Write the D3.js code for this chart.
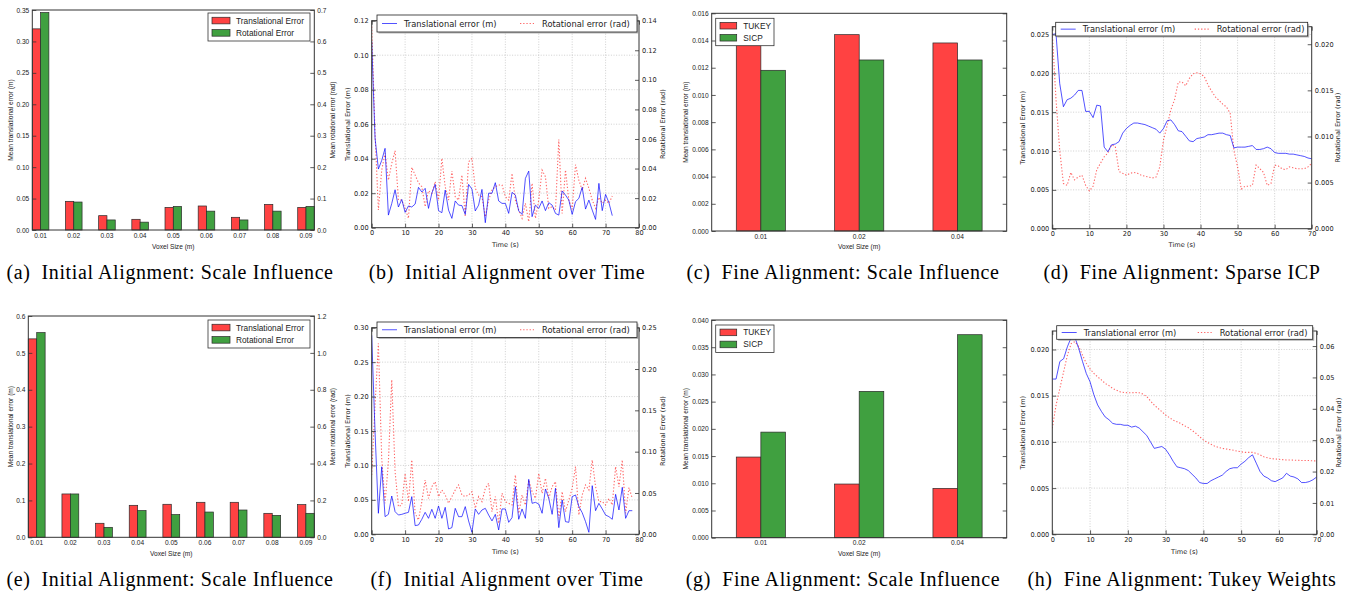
<!DOCTYPE html>
<html>
<head>
<meta charset="utf-8">
<script src="https://cdn.jsdelivr.net/npm/d3@7"></script>
<style>
  body { margin: 0; background: #fff; }
  svg { display: block; }
  .cap { font-family: "Liberation Serif", "Times New Roman", serif; font-size: 20px; letter-spacing: 0.6px; fill: #000; white-space: pre; }
</style>
</head>
<body>
<svg width="1354" height="595"></svg>
<script>
// ---- data ----
const voxelCoarse = ['0.01', '0.02', '0.03', '0.04', '0.05', '0.06', '0.07', '0.08', '0.09'];
const voxelFine = ['0.01', '0.02', '0.04'];

// (a) initial alignment, scale influence
const transErrA = [0.320, 0.0456, 0.0228, 0.017, 0.036, 0.0382, 0.0202, 0.0408, 0.036];
const rotErrA = [0.692, 0.089, 0.032, 0.025, 0.075, 0.060, 0.032, 0.060, 0.075];
// (e) initial alignment, scale influence (second sequence)
const transErrE = [0.538, 0.1175, 0.038, 0.0867, 0.0895, 0.0949, 0.0949, 0.065, 0.0886];
const rotErrE = [1.11, 0.235, 0.054, 0.145, 0.123, 0.137, 0.148, 0.119, 0.130];
// (c) / (g) fine alignment, scale influence
const tukeyC = [0.0147, 0.01443, 0.01382];
const sicpC = [0.01181, 0.01257, 0.01257];
const tukeyG = [0.01482, 0.00986, 0.00906];
const sicpG = [0.0194, 0.02689, 0.0373];

// (b) initial alignment over time, one sample per second
const transB = [0.108, 0.052, 0.034, 0.039, 0.046, 0.0073, 0.014, 0.022, 0.012, 0.0164, 0.0089, 0.0126, 0.012, 0.0137, 0.0234, 0.0207, 0.0228, 0.0112, 0.020, 0.0251, 0.0099, 0.0087, 0.0218, 0.0102, 0.0054, 0.0155, 0.0131, 0.0128, 0.0077, 0.0251, 0.0224, 0.0097, 0.0131, 0.0222, 0.0029, 0.020, 0.020, 0.0261, 0.0155, 0.0141, 0.0141, 0.0083, 0.0205, 0.0189, 0.0097, 0.0077, 0.0286, 0.0328, 0.0064, 0.0131, 0.0112, 0.0155, 0.0099, 0.0145, 0.0131, 0.0083, 0.0073, 0.0213, 0.0189, 0.016, 0.0077, 0.0151, 0.017, 0.0234, 0.0108, 0.016, 0.0102, 0.0048, 0.0257, 0.0099, 0.0193, 0.0145, 0.007];
const rotB = [0.136, 0.0638, 0.012, 0.039, 0.0503, 0.0322, 0.0435, 0.052, 0.0187, 0.0187, 0.0131, 0.0063, 0.0408, 0.0356, 0.0304, 0.0277, 0.0142, 0.025, 0.0232, 0.0311, 0.0187, 0.0469, 0.0277, 0.0187, 0.0383, 0.021, 0.0187, 0.0356, 0.0074, 0.0446, 0.0469, 0.0266, 0.0221, 0.021, 0.0074, 0.0187, 0.0255, 0.0277, 0.0289, 0.0289, 0.021, 0.0187, 0.0367, 0.0187, 0.012, 0.0063, 0.0165, 0.0041, 0.03, 0.0063, 0.0187, 0.039, 0.0345, 0.0131, 0.0142, 0.012, 0.0597, 0.0097, 0.039, 0.0187, 0.0124, 0.0426, 0.0322, 0.0255, 0.0334, 0.0266, 0.0187, 0.0131, 0.0205, 0.0165, 0.0187, 0.0165, 0.0214];

// (f) initial alignment over time (second sequence)
const transF = [0.289, 0.149, 0.0305, 0.098, 0.0256, 0.029, 0.0556, 0.0329, 0.028, 0.029, 0.0305, 0.0319, 0.0547, 0.0126, 0.0135, 0.0218, 0.0319, 0.0232, 0.0363, 0.0232, 0.0411, 0.0232, 0.0392, 0.0077, 0.0097, 0.0377, 0.0256, 0.0256, 0.0402, 0.0194, 0.0029, 0.0368, 0.029, 0.0353, 0.0377, 0.028, 0.0194, 0.029, 0.0063, 0.0368, 0.0368, 0.0174, 0.0242, 0.0692, 0.0218, 0.0368, 0.0232, 0.0798, 0.045, 0.0464, 0.044, 0.0305, 0.0658, 0.0522, 0.029, 0.0668, 0.0097, 0.0498, 0.0184, 0.0174, 0.0547, 0.0571, 0.0402, 0.0314, 0.0184, 0.0029, 0.0706, 0.0343, 0.045, 0.0368, 0.028, 0.0256, 0.0218, 0.058, 0.0353, 0.0682, 0.0232, 0.0343, 0.0343];
const rotF = [0.0718, 0.156, 0.231, 0.0919, 0.0375, 0.0879, 0.187, 0.0758, 0.0335, 0.0355, 0.0738, 0.0395, 0.0899, 0.0254, 0.0173, 0.0395, 0.0657, 0.0435, 0.0577, 0.0637, 0.0456, 0.0536, 0.0476, 0.0375, 0.0456, 0.0536, 0.0597, 0.0476, 0.0456, 0.0476, 0.0516, 0.0315, 0.0456, 0.0395, 0.0556, 0.0617, 0.0274, 0.0456, 0.0133, 0.0496, 0.0395, 0.0375, 0.0355, 0.0718, 0.0254, 0.0476, 0.0355, 0.0657, 0.0516, 0.0435, 0.0738, 0.0496, 0.0677, 0.0435, 0.0577, 0.0637, 0.0194, 0.0516, 0.0274, 0.0415, 0.0556, 0.0819, 0.0234, 0.0476, 0.0597, 0.0536, 0.0899, 0.0577, 0.0395, 0.0395, 0.0355, 0.0435, 0.0355, 0.0819, 0.0577, 0.0899, 0.0254, 0.0565, 0.0435];

// (d) fine alignment, sparse ICP
const transD = [0.025, 0.0251, 0.0187, 0.0157, 0.0166, 0.0168, 0.0172, 0.0178, 0.0178, 0.0151, 0.0151, 0.0143, 0.0159, 0.0158, 0.0105, 0.0099, 0.0108, 0.0109, 0.0112, 0.0123, 0.0129, 0.0133, 0.0136, 0.0136, 0.0135, 0.0134, 0.0132, 0.013, 0.0128, 0.0123, 0.0129, 0.0139, 0.014, 0.0134, 0.0126, 0.0125, 0.0119, 0.0113, 0.0112, 0.0116, 0.0117, 0.0118, 0.0121, 0.0121, 0.0122, 0.0123, 0.0123, 0.0121, 0.012, 0.0104, 0.0105, 0.0105, 0.0105, 0.0106, 0.0107, 0.0102, 0.0102, 0.0103, 0.0105, 0.0103, 0.0098, 0.0097, 0.0097, 0.0097, 0.0096, 0.0096, 0.0095, 0.0094, 0.0093, 0.0091, 0.009];
const rotD = [0.0212, 0.014, 0.0085, 0.0049, 0.0047, 0.0061, 0.0053, 0.0056, 0.0058, 0.0047, 0.0041, 0.0046, 0.0064, 0.0071, 0.0078, 0.0082, 0.0091, 0.0089, 0.0062, 0.006, 0.0058, 0.006, 0.0061, 0.006, 0.0058, 0.0057, 0.0056, 0.0055, 0.0056, 0.0067, 0.0096, 0.0112, 0.0129, 0.014, 0.0159, 0.0159, 0.0155, 0.0163, 0.0168, 0.0169, 0.0168, 0.0165, 0.0156, 0.0149, 0.0143, 0.0139, 0.0135, 0.0132, 0.0125, 0.0085, 0.0067, 0.0043, 0.0046, 0.0046, 0.0047, 0.0069, 0.0065, 0.0061, 0.0047, 0.0049, 0.0069, 0.0068, 0.0065, 0.0064, 0.0067, 0.0066, 0.0065, 0.0065, 0.0065, 0.0067, 0.0071];

// (h) fine alignment, tukey weights
const transH = [0.0168, 0.0168, 0.0187, 0.019, 0.0203, 0.0213, 0.0213, 0.0201, 0.0187, 0.0174, 0.0165, 0.0151, 0.014, 0.0133, 0.0127, 0.0124, 0.012, 0.0119, 0.0119, 0.0118, 0.0118, 0.0116, 0.0117, 0.0115, 0.0111, 0.0107, 0.010, 0.0093, 0.0094, 0.0095, 0.0092, 0.0086, 0.0079, 0.0073, 0.0072, 0.0071, 0.0069, 0.0065, 0.0061, 0.0056, 0.0055, 0.0055, 0.0058, 0.006, 0.0062, 0.0064, 0.0068, 0.0071, 0.0072, 0.0072, 0.0076, 0.0079, 0.0083, 0.0086, 0.0077, 0.0068, 0.0063, 0.0061, 0.0058, 0.0057, 0.0059, 0.0061, 0.0066, 0.0063, 0.0062, 0.006, 0.0056, 0.0056, 0.0057, 0.0059, 0.0062];
const rotH = [0.0338, 0.0412, 0.0465, 0.0518, 0.0571, 0.0608, 0.0614, 0.0598, 0.0571, 0.0545, 0.0527, 0.0513, 0.0502, 0.0492, 0.0481, 0.0474, 0.0465, 0.0459, 0.0454, 0.0452, 0.0451, 0.0451, 0.0452, 0.0451, 0.0447, 0.0439, 0.0425, 0.0412, 0.0401, 0.0391, 0.038, 0.0372, 0.0364, 0.0359, 0.0353, 0.0346, 0.034, 0.0331, 0.0322, 0.0311, 0.0301, 0.0293, 0.0287, 0.0281, 0.0277, 0.0274, 0.0272, 0.027, 0.0268, 0.0265, 0.0263, 0.0261, 0.0261, 0.0261, 0.0258, 0.0253, 0.0247, 0.0244, 0.0241, 0.024, 0.0239, 0.0238, 0.0237, 0.0237, 0.0236, 0.0236, 0.0235, 0.0235, 0.0235, 0.0234, 0.0234];

const captions = [
  '(a)  Initial Alignment: Scale Influence', '(b)  Initial Alignment over Time',
  '(c)  Fine Alignment: Scale Influence', '(d)  Fine Alignment: Sparse ICP',
  '(e)  Initial Alignment: Scale Influence', '(f)  Initial Alignment over Time',
  '(g)  Fine Alignment: Scale Influence', '(h)  Fine Alignment: Tukey Weights'
];

// ---- drawing ----
const svg = d3.select('svg');
const SANS = '"Liberation Sans", Arial, sans-serif';
const DJV = '"DejaVu Sans", sans-serif';
const RED = '#ff4242';
const GREEN = '#40a040';
const BLUE_LINE = 'rgba(0,0,255,0.68)';
const RED_LINE = 'rgba(255,0,0,0.6)';

function styleAxis(sel, font, size) {
  sel.select('.domain').remove();
  sel.selectAll('text').attr('font-family', font).attr('font-size', size).attr('fill', '#222');
  sel.selectAll('line').attr('stroke', '#333').attr('stroke-width', 0.8);
}

function frame(g, p) {
  g.append('rect')
    .attr('x', p.l).attr('y', p.t)
    .attr('width', p.r - p.l).attr('height', p.b - p.t)
    .attr('fill', 'none').attr('stroke', '#333').attr('stroke-width', 1);
}

function axisLabels(g, p, font) {
  const midY = (p.t + p.b) / 2;
  g.append('text').attr('x', (p.l + p.r) / 2).attr('y', p.xlabY)
    .attr('text-anchor', 'middle').attr('font-family', font).attr('font-size', p.fs)
    .attr('fill', '#222').text(p.xlab);
  g.append('text').attr('transform', `translate(${p.ylabX},${midY}) rotate(-90)`)
    .attr('text-anchor', 'middle').attr('dominant-baseline', 'central')
    .attr('font-family', font).attr('font-size', p.fs).attr('fill', '#222').text(p.ylab);
  if (p.y2lab) {
    g.append('text').attr('transform', `translate(${p.y2labX},${midY}) rotate(-90)`)
      .attr('text-anchor', 'middle').attr('dominant-baseline', 'central')
      .attr('font-family', font).attr('font-size', p.fs).attr('fill', '#222').text(p.y2lab);
  }
}

function barPanel(p) {
  const g = svg.append('g');
  const x = d3.scaleBand().domain(p.cats).range([p.l, p.r])
    .paddingInner(p.padIn).paddingOuter(p.padOut);
  const sub = d3.scaleBand().domain([0, 1]).range([0, x.bandwidth()]);
  const y = d3.scaleLinear().domain([0, p.yMax]).range([p.b, p.t]);
  const y2 = p.y2Max ? d3.scaleLinear().domain([0, p.y2Max]).range([p.b, p.t]) : y;

  const series = [
    { vals: p.s1, scale: y, color: RED, k: 0 },
    { vals: p.s2, scale: y2, color: GREEN, k: 1 }
  ];
  series.forEach(s => {
    g.append('g').selectAll('rect').data(s.vals).join('rect')
      .attr('x', (d, i) => x(p.cats[i]) + sub(s.k))
      .attr('y', d => s.scale(d))
      .attr('width', sub.bandwidth())
      .attr('height', d => p.b - s.scale(d))
      .attr('fill', s.color)
      .attr('stroke', '#2a2a2a').attr('stroke-width', 0.7);
  });

  frame(g, p);

  g.append('g').attr('transform', `translate(${p.l},0)`)
    .call(d3.axisLeft(y).tickValues(p.yTicks).tickFormat(d3.format(p.yFmt))
      .tickSizeInner(-4).tickSizeOuter(0).tickPadding(3))
    .call(styleAxis, SANS, p.fs);
  g.append('g').attr('transform', `translate(${p.r},0)`)
    .call(d3.axisRight(y2).tickValues(p.y2Ticks || p.yTicks)
      .tickFormat(p.y2Max ? d3.format(p.y2Fmt) : '')
      .tickSizeInner(-4).tickSizeOuter(0).tickPadding(3))
    .call(styleAxis, SANS, p.fs);
  g.append('g').attr('transform', `translate(0,${p.b})`)
    .call(d3.axisBottom(x).tickSizeInner(0).tickSizeOuter(0).tickPadding(3))
    .call(styleAxis, SANS, p.fs);

  axisLabels(g, p, SANS);

  // legend
  const L = p.legend;
  const lg = g.append('g');
  lg.append('rect').attr('x', L.x).attr('y', L.y).attr('width', L.w).attr('height', L.h)
    .attr('fill', '#fff').attr('stroke', '#333').attr('stroke-width', 0.8);
  p.names.forEach((name, i) => {
    const cy = L.y + L.h * (i === 0 ? 0.27 : 0.71);
    lg.append('rect').attr('x', L.x + L.px).attr('y', cy - 3.3).attr('width', L.pw).attr('height', 6.6)
      .attr('fill', i === 0 ? RED : GREEN).attr('stroke', '#2a2a2a').attr('stroke-width', 0.7);
    lg.append('text').attr('x', L.x + L.tx).attr('y', cy + 3)
      .attr('font-family', SANS).attr('font-size', 8.3).attr('fill', '#222').text(name);
  });
}

function linePanel(p) {
  const g = svg.append('g');
  const x = d3.scaleLinear().domain([0, p.xMax]).range([p.l, p.r]);
  const y = d3.scaleLinear().domain([0, p.yMax]).range([p.b, p.t]);
  const y2 = d3.scaleLinear().domain([0, p.y2Max]).range([p.b, p.t]);

  // grid
  const grid = g.append('g').attr('stroke', '#b0b0b0').attr('stroke-width', 0.6)
    .attr('stroke-dasharray', '1,1.6');
  grid.selectAll('.gx').data(p.xTicks.filter(v => v > 0 && v < p.xMax)).join('line')
    .attr('x1', d => x(d)).attr('x2', d => x(d)).attr('y1', p.t).attr('y2', p.b);
  grid.selectAll('.gy').data(p.yTicks.filter(v => v > 0 && y(v) > p.t + 0.5)).join('line')
    .attr('x1', p.l).attr('x2', p.r).attr('y1', d => y(d)).attr('y2', d => y(d));

  const clipId = 'clip' + p.id;
  svg.append('clipPath').attr('id', clipId).append('rect')
    .attr('x', p.l).attr('y', p.t).attr('width', p.r - p.l).attr('height', p.b - p.t);

  const lineT = d3.line().x((d, i) => x(i)).y(d => y(d));
  const lineR = d3.line().x((d, i) => x(i)).y(d => y2(d));
  g.append('path').datum(p.rot).attr('d', lineR).attr('clip-path', `url(#${clipId})`)
    .attr('fill', 'none').attr('stroke', RED_LINE).attr('stroke-width', 1.1)
    .attr('stroke-dasharray', '1.3,1.9');
  g.append('path').datum(p.trans).attr('d', lineT).attr('clip-path', `url(#${clipId})`)
    .attr('fill', 'none').attr('stroke', BLUE_LINE).attr('stroke-width', 1);

  frame(g, p);

  g.append('g').attr('transform', `translate(${p.l},0)`)
    .call(d3.axisLeft(y).tickValues(p.yTicks).tickFormat(d3.format(p.yFmt))
      .tickSizeInner(-4).tickSizeOuter(0).tickPadding(3))
    .call(styleAxis, DJV, p.fs);
  g.append('g').attr('transform', `translate(${p.r},0)`)
    .call(d3.axisRight(y2).tickValues(p.y2Ticks).tickFormat(d3.format(p.y2Fmt))
      .tickSizeInner(-4).tickSizeOuter(0).tickPadding(3))
    .call(styleAxis, DJV, p.fs);
  g.append('g').attr('transform', `translate(0,${p.b})`)
    .call(d3.axisBottom(x).tickValues(p.xTicks).tickFormat(d3.format('d'))
      .tickSizeInner(-4).tickSizeOuter(0).tickPadding(3))
    .call(styleAxis, DJV, p.fs);
  g.append('g').attr('transform', `translate(0,${p.t})`)
    .call(d3.axisTop(x).tickValues(p.xTicks).tickFormat('')
      .tickSizeInner(-4).tickSizeOuter(0))
    .call(styleAxis, DJV, p.fs);

  axisLabels(g, p, DJV);

  // legend with a soft shadow
  const L = p.legend;
  const lg = g.append('g');
  lg.append('rect').attr('x', L.x + 1.5).attr('y', L.y + 1.5).attr('width', L.w).attr('height', L.h)
    .attr('fill', '#8a8a8a').attr('opacity', 0.6);
  lg.append('rect').attr('x', L.x).attr('y', L.y).attr('width', L.w).attr('height', L.h)
    .attr('fill', '#fff').attr('stroke', '#222').attr('stroke-width', 0.8);
  const cy = L.y + L.h / 2;
  lg.append('line').attr('x1', L.x + 5).attr('x2', L.x + 20).attr('y1', cy).attr('y2', cy)
    .attr('stroke', BLUE_LINE).attr('stroke-width', 1);
  lg.append('text').attr('x', L.x + 27).attr('y', cy + 3)
    .attr('font-family', DJV).attr('font-size', 8.3).attr('fill', '#222').text('Translational error (m)');
  lg.append('line').attr('x1', L.x + L.rx).attr('x2', L.x + L.rx + 14).attr('y1', cy).attr('y2', cy)
    .attr('stroke', RED_LINE).attr('stroke-width', 1.1).attr('stroke-dasharray', '1.3,1.9');
  lg.append('text').attr('x', L.x + L.rx + 22).attr('y', cy + 3)
    .attr('font-family', DJV).attr('font-size', 8.3).attr('fill', '#222').text('Rotational error (rad)');
}

const barNamesCoarse = ['Translational Error', 'Rotational Error'];
const barNamesFine = ['TUKEY', 'SICP'];

barPanel({
  l: 32.3, r: 314.3, t: 10, b: 230, fs: 6.6,
  cats: voxelCoarse, s1: transErrA, s2: rotErrA, padIn: 0.5, padOut: 0,
  yMax: 0.35, yTicks: d3.range(0, 0.351, 0.05), yFmt: '.2f',
  y2Max: 0.7, y2Ticks: d3.range(0, 0.71, 0.1), y2Fmt: '.1f',
  xlab: 'Voxel Size (m)', xlabY: 248.5, ylab: 'Mean translational error (m)', ylabX: 10,
  y2lab: 'Mean rotational error (rad)', y2labX: 332,
  names: barNamesCoarse, legend: { x: 208, y: 13, w: 102, h: 28, px: 4, pw: 18, tx: 28 }
});
barPanel({
  l: 28.3, r: 314.3, t: 316, b: 537.3, fs: 6.6,
  cats: voxelCoarse, s1: transErrE, s2: rotErrE, padIn: 0.5, padOut: 0,
  yMax: 0.6, yTicks: d3.range(0, 0.61, 0.1), yFmt: '.1f',
  y2Max: 1.2, y2Ticks: d3.range(0, 1.21, 0.2), y2Fmt: '.1f',
  xlab: 'Voxel Size (m)', xlabY: 555.5, ylab: 'Mean translational error (m)', ylabX: 10,
  y2lab: 'Mean rotational error (rad)', y2labX: 332,
  names: barNamesCoarse, legend: { x: 208, y: 320, w: 102, h: 28, px: 4, pw: 18, tx: 28 }
});
barPanel({
  l: 711.7, r: 1006.7, t: 13.3, b: 231, fs: 6.6,
  cats: voxelFine, s1: tukeyC, s2: sicpC, padIn: 0.5, padOut: 0.25,
  yMax: 0.016, yTicks: d3.range(0, 0.01601, 0.002), yFmt: '.3f',
  xlab: 'Voxel Size (m)', xlabY: 248.5, ylab: 'Mean translational error (m)', ylabX: 685,
  names: barNamesFine, legend: { x: 715.7, y: 18.3, w: 58.3, h: 27.4, px: 4.3, pw: 16.7, tx: 27.6 }
});
barPanel({
  l: 711.7, r: 1006.7, t: 320, b: 537.7, fs: 6.6,
  cats: voxelFine, s1: tukeyG, s2: sicpG, padIn: 0.5, padOut: 0.25,
  yMax: 0.04, yTicks: d3.range(0, 0.04001, 0.005), yFmt: '.3f',
  xlab: 'Voxel Size (m)', xlabY: 555.5, ylab: 'Mean translational error (m)', ylabX: 685,
  names: barNamesFine, legend: { x: 715.7, y: 325, w: 58.3, h: 27.4, px: 4.3, pw: 16.7, tx: 27.6 }
});

linePanel({
  id: 'b', l: 371.7, r: 639, t: 20.7, b: 227.7, fs: 6.6,
  trans: transB, rot: rotB, xMax: 80, xTicks: d3.range(0, 81, 10),
  yMax: 0.12, yTicks: d3.range(0, 0.1201, 0.02), yFmt: '.2f',
  y2Max: 0.14, y2Ticks: d3.range(0, 0.1401, 0.02), y2Fmt: '.2f',
  xlab: 'Time (s)', xlabY: 246.5, ylab: 'Translational Error (m)', ylabX: 347.5,
  y2lab: 'Rotational Error (rad)', y2labX: 663,
  legend: { x: 377, y: 15, w: 260, h: 17, rx: 143 }
});
linePanel({
  id: 'f', l: 371.7, r: 639, t: 327.7, b: 534.3, fs: 6.6,
  trans: transF, rot: rotF, xMax: 80, xTicks: d3.range(0, 81, 10),
  yMax: 0.30, yTicks: d3.range(0, 0.3001, 0.05), yFmt: '.2f',
  y2Max: 0.25, y2Ticks: d3.range(0, 0.2501, 0.05), y2Fmt: '.2f',
  xlab: 'Time (s)', xlabY: 553.5, ylab: 'Translational Error (m)', ylabX: 347.5,
  y2lab: 'Rotational Error (rad)', y2labX: 663,
  legend: { x: 377, y: 322, w: 260, h: 15.5, rx: 143 }
});
linePanel({
  id: 'd', l: 1052.3, r: 1311.7, t: 26.7, b: 228.7, fs: 6.6,
  trans: transD, rot: rotD, xMax: 70, xTicks: d3.range(0, 71, 10),
  yMax: 0.026, yTicks: d3.range(0, 0.02501, 0.005), yFmt: '.3f',
  y2Max: 0.0219, y2Ticks: d3.range(0, 0.02001, 0.005), y2Fmt: '.3f',
  xlab: 'Time (s)', xlabY: 246.5, ylab: 'Translational Error (m)', ylabX: 1023,
  y2lab: 'Rotational Error (rad)', y2labX: 1338,
  legend: { x: 1055.7, y: 22.3, w: 252, h: 13.7, rx: 139 }
});
linePanel({
  id: 'h', l: 1052.3, r: 1316.7, t: 331, b: 534.3, fs: 6.6,
  trans: transH, rot: rotH, xMax: 70, xTicks: d3.range(0, 71, 10),
  yMax: 0.022, yTicks: d3.range(0, 0.02001, 0.005), yFmt: '.3f',
  y2Max: 0.0648, y2Ticks: d3.range(0, 0.0601, 0.01), y2Fmt: '.2f',
  xlab: 'Time (s)', xlabY: 553.5, ylab: 'Translational Error (m)', ylabX: 1023,
  y2lab: 'Rotational Error (rad)', y2labX: 1339,
  legend: { x: 1056.7, y: 325.7, w: 256, h: 13.6, rx: 141 }
});

// sub-figure captions
const capX = [170, 507, 843, 1182];
svg.append('g').selectAll('text').data(captions).join('text')
  .attr('class', 'cap')
  .attr('x', (d, i) => capX[i % 4])
  .attr('y', (d, i) => i < 4 ? 279 : 586)
  .attr('text-anchor', 'middle')
  .text(d => d);
</script>
</body>
</html>
